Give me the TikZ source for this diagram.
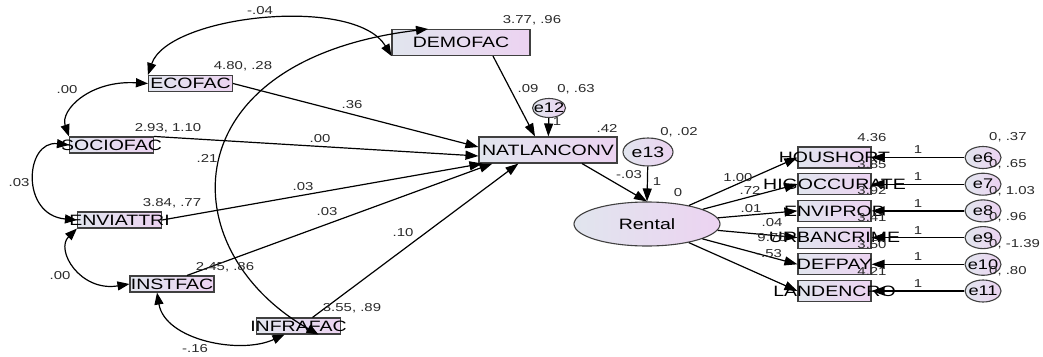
\documentclass[tikz,border=0pt]{standalone}
\usepackage{fontspec}
\setmainfont{Liberation Sans}[FakeStretch=1.3]
\usetikzlibrary{arrows.meta,shapes.geometric}
\definecolor{shl}{HTML}{E1E5EE}
\definecolor{shr}{HTML}{ECD3F1}
\definecolor{ink}{HTML}{2A2A2A}
\tikzset{
  obs/.style={draw=black!75, line width=1.1pt, left color=shl, right color=shr,
    inner sep=0pt, font=\fontsize{15}{16}\selectfont,
    execute at begin node={\hbox to 0pt\bgroup\hss},
    execute at end node={\hss\egroup}},
  sbox/.style={obs, minimum width=84pt, minimum height=16pt},
  bbox/.style={obs, minimum width=138pt, minimum height=26pt},
  rbox/.style={obs, minimum width=73pt, minimum height=21pt},
  lat/.style={obs, ellipse},
  lbl/.style={font=\fontsize{11.5}{12}\selectfont, text=ink, inner sep=0pt},
  pth/.style={line width=1.2pt, -{Triangle[length=13pt,width=9pt]}},
  cov/.style={line width=1.2pt, {Triangle[length=12pt,width=9pt]}-{Triangle[length=12pt,width=9pt]}}
}
\begin{document}
\begin{tikzpicture}[x=1pt, y=-1pt]
\useasboundingbox (0,0) rectangle (1043,356);
\node[sbox] (eco) at (190.5,83.5) {ECOFAC};
\node[sbox] (soc) at (111.5,145) {SOCIOFAC};
\node[sbox] (env) at (119.5,220) {ENVIATTRI};
\node[sbox] (inst) at (172,284) {INSTFAC};
\node[sbox] (infra) at (298.5,326) {INFRAFAC};
\node[bbox] (demo) at (461,42.5) {DEMOFAC};
\node[bbox] (nat) at (548,150) {NATLANCONV};
\node[lat, minimum width=33pt, minimum height=19pt, font=\fontsize{14}{15}\selectfont] (e12) at (549,108) {e12};
\node[lat, minimum width=50pt, minimum height=28pt] (e13) at (648,152) {e13};
\node[lat, minimum width=146pt, minimum height=44pt] (rent) at (647,224) {Rental};

\foreach \n/\m/\e/\v [count=\i from 0] in {HOUSHORT/4.36/e6/{0, .37}, HIGOCCURATE/3.85/e7/{0, .65},
    ENVIPROB/3.92/e8/{0, 1.03}, URBANCRIME/3.41/e9/{0, .96}, DEFPAY/3.50/e10/{0, -1.39}, LANDENCRO/4.21/e11/{0, .80}}{
  \pgfmathsetmacro\y{157.5+26.7*\i}
  \node[rbox] (b\i) at (834.5,\y) {\n};
  \node[lat, minimum width=36pt, minimum height=22pt, font=\fontsize{14}{15}\selectfont] (\e) at (983,\y) {\e};
  \node[lbl] at (872,\y-20) {\m};
  \node[lbl, anchor=west] at (989,\y-20) {\v};
  \draw[pth] (\e) -- node[lbl, above=3pt] {1} (b\i);
  \draw[pth] (rent) -- (b\i.west);
}

\draw[pth] (eco.east) -- ([yshift=3pt]nat.west);
\draw[pth] (soc.north east) -- ([yshift=-6pt]nat.west);
\draw[pth] (env.east) -- ([xshift=4pt]nat.south west);
\draw[pth] ([xshift=15pt]inst.north) -- ([xshift=14pt]nat.south west);
\draw[pth] ([xshift=14pt]infra.north) -- ([xshift=40pt]nat.south west);
\draw[pth] ([xshift=32pt]demo.south) -- ([xshift=-13pt]nat.north);
\draw[pth] (e12) -- (nat);
\draw[pth] ([xshift=34pt]nat.south) -- (rent.north);
\draw[pth] (e13) -- (rent.north);

\draw[cov] (eco.north west) .. controls (168,15) and (355,-5) .. (demo.south west);
\draw[cov] ([xshift=20pt]infra.south) .. controls (170,250) and (170,60) .. ([xshift=-33pt]demo.north);
\draw[cov] (eco.west) .. controls (90,80) and (60,110) .. (soc.north west);
\draw[cov] (soc.west) .. controls (25,140) and (20,215) .. (env.west);
\draw[cov] (env.south west) .. controls (55,250) and (80,292) .. (inst.west);
\draw[cov] ([xshift=-15pt]inst.south) .. controls (165,340) and (240,355) .. ([xshift=-14pt]infra.south);

\node[lbl] at (243,66) {4.80, .28};
\node[lbl] at (168,128) {2.93, 1.10};
\node[lbl] at (172,203) {3.84, .77};
\node[lbl] at (225,267) {2.45, .86};
\node[lbl] at (352,308) {3.55, .89};
\node[lbl] at (532,20) {3.77, .96};
\node[lbl] at (607,128) {.42};
\node[lbl] at (576,89) {0, .63};
\node[lbl] at (679,132) {0, .02};
\node[lbl] at (678,193) {0};

\node[lbl] at (352,105) {.36};
\node[lbl] at (320,139) {.00};
\node[lbl] at (303,187) {.03};
\node[lbl] at (327,212) {.03};
\node[lbl] at (403,233) {.10};
\node[lbl] at (528,89) {.09};
\node[lbl] at (557,122) {1};
\node[lbl] at (629,175) {-.03};
\node[lbl] at (657,182) {1};

\node[lbl] at (260,11) {-.04};
\node[lbl] at (67,90) {.00};
\node[lbl] at (19,183) {.03};
\node[lbl] at (60,276) {.00};
\node[lbl] at (195,349) {-.16};
\node[lbl] at (207,158) {.21};

\node[lbl] at (738,178) {1.00};
\node[lbl] at (750,190) {.72};
\node[lbl] at (751,209) {.01};
\node[lbl] at (772,223) {.04};
\node[lbl] at (772,238) {9.76};
\node[lbl] at (769,254) {-.53};
\end{tikzpicture}
\end{document}
